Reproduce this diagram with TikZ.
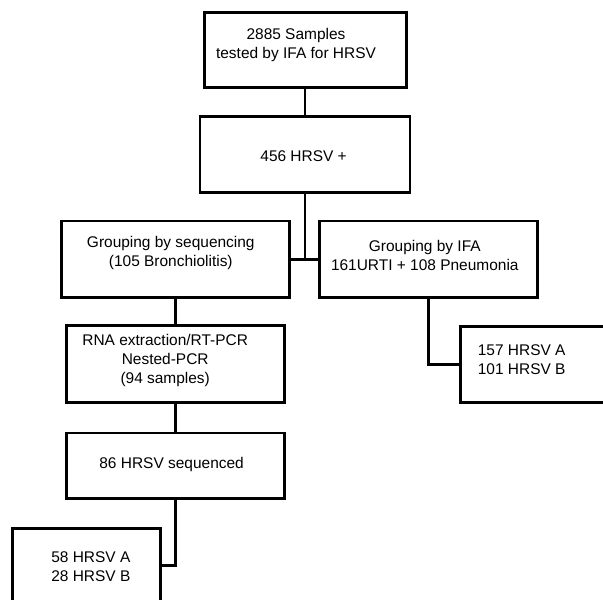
\documentclass[tikz,border=0pt]{standalone}
\usepackage{fontspec}
\setmainfont{Liberation Sans}
\begin{document}
\begin{tikzpicture}[
    box/.style={draw, line width=2pt, inner sep=0pt},
    txt/.style={inner sep=0pt, align=center, font=\fontsize{11}{13.5}\selectfont},
    link/.style={line width=2pt}
  ]
      \useasboundingbox (0, 0) rectangle (15.075, 14.975);
      \clip (0, 0) rectangle (15.075, 14.975);

      \node[box, minimum width=5.05cm, minimum height=1.87cm] (samples) at (7.64, 13.725){};
      \node[txt] (samples text) at (7.4, 13.86){2885 Samples\\tested by IFA for HRSV};
      \node[box, minimum width=5.25cm, minimum height=1.89cm] (positive) at (7.625, 11.115){};
      \node[txt] (positive text) at (7.59, 11.08){456 HRSV +};

      \node[box, minimum width=5.7cm, minimum height=1.92cm] (bysequencing) at (4.39, 8.49){};
      \node[txt] (bysequencing text) at (4.27, 8.65){Grouping by sequencing\\(105 Bronchiolitis)};
      \node[box, minimum width=5.45cm, minimum height=1.92cm] (byifa) at (10.715, 8.49){};
      \node[txt] (byifa text) at (10.62, 8.6){Grouping by IFA\\161URTI + 108 Pneumonia};

      \node[box, minimum width=5.46cm, minimum height=1.915cm] (extraction) at (4.39, 5.875){};
      \node[txt] (extraction text) at (4.13, 5.955){RNA extraction/RT-PCR\\Nested-PCR\\(94 samples)};
      \node[box, minimum width=5.46cm, minimum height=1.63cm] (sequenced) at (4.39, 3.335){};
      \node[txt] (sequenced text) at (4.29, 3.375){86 HRSV sequenced};

      \node[box, minimum width=3.7cm, minimum height=1.88cm] (seqtypes) at (2.17, 0.83){};
      \node[txt, align=left, anchor=west] (seqtypes text) at (1.275, 0.81){58 HRSV A\\28 HRSV B};
      \node[box, minimum width=4.5cm, minimum height=1.9cm] (ifatypes) at (13.76, 5.87){};
      \node[txt, align=left, anchor=west] (ifatypes text) at (11.94, 5.975){157 HRSV A\\101 HRSV B};

      \draw[link] (positive |- samples.south) to (positive.north);
      \draw[link] (positive) to (positive |- bysequencing.east);
      \draw[link] (bysequencing) to (byifa);
      \draw[link] (bysequencing) to (extraction);
      \draw[link] (extraction) to (sequenced);
      \draw[link] (sequenced) |- (seqtypes);
      \draw[link] (byifa) |- (ifatypes);
    \end{tikzpicture}
\end{document}
